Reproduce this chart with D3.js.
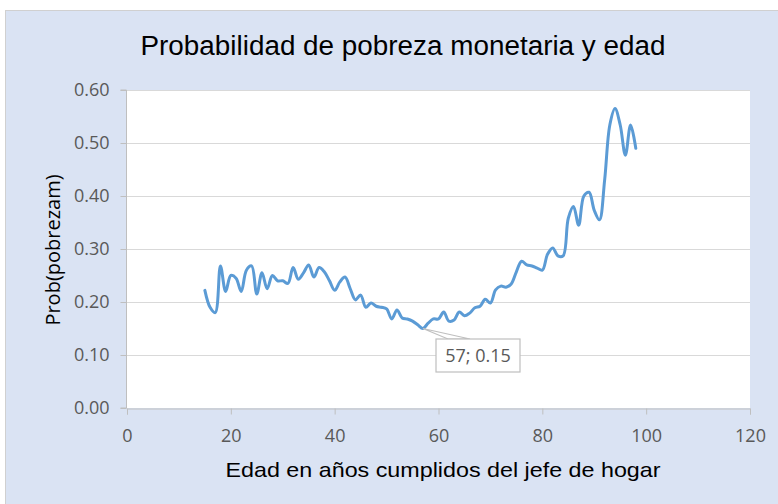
<!DOCTYPE html>
<html><head><meta charset="utf-8">
<script src="https://cdn.jsdelivr.net/npm/d3@7"></script>
<style>body{margin:0;background:#fff}</style>
</head><body>
<svg id="c" width="778" height="504"></svg>
<script>
const ages = [15,16,17,18,19,20,21,22,23,24,25,26,27,28,29,30,31,32,33,34,35,36,37,38,39,40,41,42,43,44,45,46,47,48,49,50,51,52,53,54,55,56,57,58,59,60,61,62,63,64,65,66,67,68,69,70,71,72,73,74,75,76,77,78,79,80,81,82,83,84,85,86,87,88,89,90,91,92,93,94,95,96,97,98];
const probs = [0.222,0.19,0.18,0.268,0.22,0.25,0.245,0.22,0.26,0.268,0.215,0.255,0.225,0.25,0.24,0.24,0.235,0.265,0.243,0.255,0.27,0.247,0.265,0.257,0.24,0.222,0.238,0.247,0.225,0.204,0.213,0.19,0.198,0.192,0.19,0.187,0.168,0.185,0.17,0.168,0.164,0.157,0.15,0.16,0.168,0.168,0.181,0.164,0.166,0.181,0.174,0.179,0.189,0.192,0.205,0.198,0.223,0.23,0.228,0.234,0.257,0.277,0.27,0.268,0.264,0.26,0.29,0.302,0.287,0.287,0.358,0.38,0.345,0.4,0.407,0.373,0.355,0.43,0.534,0.565,0.534,0.477,0.534,0.49];
const xTicks = [0,20,40,60,80,100,120];
const yTicks = [0,0.1,0.2,0.3,0.4,0.5,0.6];
const title = "Probabilidad de pobreza monetaria y edad";
const xTitle = "Edad en años cumplidos del jefe de hogar";
const yTitle = "Prob(pobrezam)";
const callout = {age:57, value:0.15, text:"57; 0.15"};

const svg = d3.select("#c");
svg.append("rect").attr("x",5.5).attr("y",10.5).attr("width",780).attr("height",500)
  .attr("fill","#dae3f3").attr("stroke","#d0d0d0");

const x = d3.scaleLinear().domain([0,120]).range([127,750]);
const y = d3.scaleLinear().domain([0,0.6]).range([408,90]);

svg.append("rect").attr("x",x(0)).attr("y",y(0.6)).attr("width",x(120)-x(0)).attr("height",y(0)-y(0.6)).attr("fill","#fff");

svg.append("g").selectAll("line").data(yTicks.filter(d=>d>0)).join("line")
  .attr("x1",x(0)).attr("x2",x(120)).attr("y1",d=>Math.round(y(d))+0.5).attr("y2",d=>Math.round(y(d))+0.5)
  .attr("stroke","#d9d9d9").attr("stroke-width",1);

const font = "'Liberation Sans', Arial, sans-serif";
const tickFont = "'Open Sans', 'Noto Sans', sans-serif";

const yAxis = svg.append("g").attr("transform",`translate(${x(0)-0.5},0)`)
  .call(d3.axisLeft(y).tickValues(yTicks).tickFormat(d3.format(".2f")).tickSize(6).tickPadding(11));
const xAxis = svg.append("g").attr("transform",`translate(0,${y(0)+0.5})`)
  .call(d3.axisBottom(x).tickValues(xTicks).tickFormat(d3.format("d")).tickSize(6).tickPadding(15));
[yAxis,xAxis].forEach(a=>{
  a.select(".domain").attr("stroke","#bfbfbf");
  a.selectAll(".tick line").attr("stroke","#bfbfbf");
  a.selectAll("text").attr("fill","#595959").style("font-family",tickFont).style("font-size","18px");
});
yAxis.selectAll(".domain").attr("d",`M-6,${y(0.6)}H0V${y(0)}H-6`);

const line = d3.line().x((d,i)=>x(ages[i])).y(d=>y(d)).curve(d3.curveCatmullRom.alpha(0.5));
svg.append("path").datum(probs).attr("d",line).attr("fill","none")
  .attr("stroke","#5b9bd5").attr("stroke-width",3).attr("stroke-linejoin","round").attr("stroke-linecap","round");

const px = x(callout.age), py = y(callout.value);
const bx = 436, by = 339, bw = 84, bh = 33;
svg.append("path").attr("d",`M${px},${py}L${bx+12},${by}L${bx+34},${by}Z`)
  .attr("fill","#fff").attr("stroke","#bfbfbf").attr("stroke-width",1.2);
svg.append("rect").attr("x",bx).attr("y",by).attr("width",bw).attr("height",bh)
  .attr("fill","#fff").attr("stroke","#bfbfbf").attr("stroke-width",1.2);
svg.append("text").attr("x",bx+bw/2).attr("y",by+bh/2+6).attr("text-anchor","middle")
  .attr("fill","#595959").style("font-family",tickFont).style("font-size","18px").text(callout.text);

svg.append("text").attr("x",403).attr("y",55).attr("text-anchor","middle")
  .style("font-family",font).style("font-size","27px").attr("fill","#000")
  .attr("textLength",525).attr("lengthAdjust","spacingAndGlyphs").text(title);
svg.append("text").attr("x",443).attr("y",477).attr("text-anchor","middle")
  .style("font-family",font).style("font-size","21px").attr("fill","#000")
  .attr("textLength",435).attr("lengthAdjust","spacingAndGlyphs").text(xTitle);
svg.append("text").attr("transform","translate(60,250) rotate(-90)").attr("text-anchor","middle")
  .style("font-family",tickFont).style("font-size","20px").attr("fill","#000").text(yTitle);
</script>
</body></html>
